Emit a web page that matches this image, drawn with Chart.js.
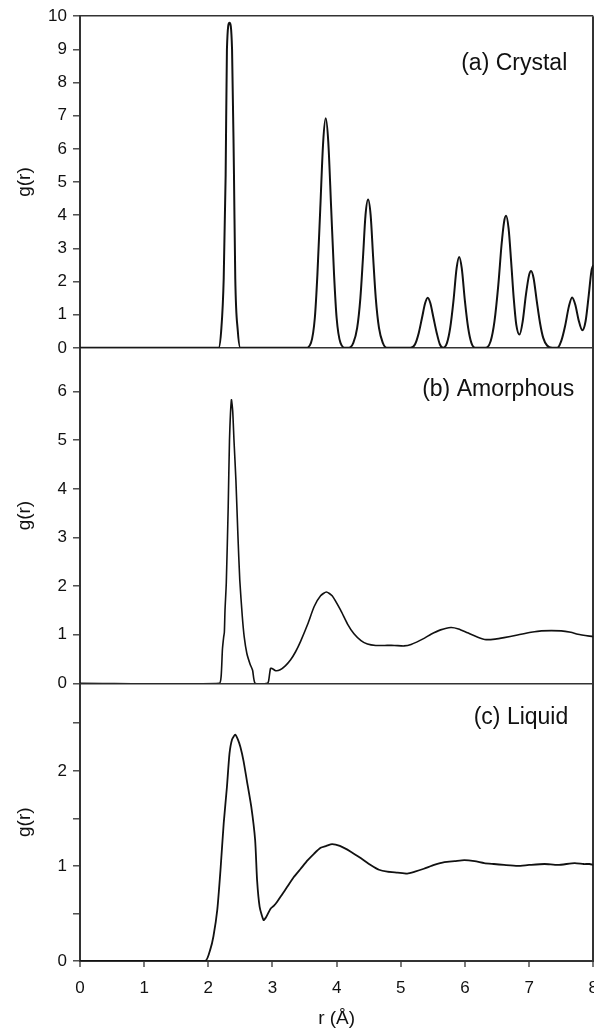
<!DOCTYPE html>
<html>
<head>
<meta charset="utf-8">
<title>g(r) - crystal / amorphous / liquid</title>
<script src="https://cdn.jsdelivr.net/npm/chart.js@4.4.1/dist/chart.umd.min.js"></script>
<style>
  html, body { margin: 0; padding: 0; background: #fff; overflow: hidden; }
  #wrap { width: 609px; height: 1030px; }
</style>
</head>
<body>
<div id="wrap"><canvas id="rdf" width="609" height="1030"></canvas></div>
<script>
// --- values (r in Angstrom, g(r)) ---
const crystalR = [0, 2.16, 2.20, 2.24, 2.27, 2.29, 2.33, 2.37, 2.40, 2.42, 2.46, 2.50,
    3.52, 3.60, 3.66, 3.70, 3.745, 3.79, 3.83, 3.87, 3.915, 3.96, 4.00, 4.06, 4.14,
    4.19, 4.26, 4.32, 4.37, 4.41, 4.45, 4.49, 4.53, 4.57, 4.61, 4.66, 4.72, 4.78,
    5.15, 5.22, 5.28, 5.33, 5.38, 5.42, 5.46, 5.51, 5.56, 5.61, 5.66,
    5.72, 5.77, 5.82, 5.87, 5.91, 5.95, 6.00, 6.05, 6.10, 6.16,
    6.32, 6.40, 6.46, 6.52, 6.57, 6.61, 6.64, 6.68, 6.72, 6.76, 6.80, 6.85,
    6.90, 6.95, 7.00, 7.03, 7.07, 7.12, 7.17, 7.22, 7.28, 7.36,
    7.44, 7.50, 7.56, 7.62, 7.67, 7.72, 7.77, 7.83, 7.88, 7.93, 7.97, 8.00];
const crystalG = [0, 0, 0.5, 2.1, 5.2, 9.0, 9.8, 9.0, 5.2, 2.1, 0.5, 0,
    0, 0.15, 0.9, 2.2, 4.2, 6.2, 6.92, 6.2, 4.2, 2.2, 0.9, 0.15, 0,
    0, 0.15, 0.6, 1.5, 2.7, 4.0, 4.47, 4.0, 2.7, 1.5, 0.6, 0.15, 0,
    0, 0.1, 0.45, 0.9, 1.35, 1.51, 1.35, 0.9, 0.45, 0.1, 0,
    0.15, 0.6, 1.4, 2.4, 2.74, 2.4, 1.4, 0.6, 0.15, 0,
    0, 0.2, 0.8, 1.9, 3.1, 3.8, 3.98, 3.6, 2.6, 1.5, 0.7, 0.40,
    0.8, 1.6, 2.2, 2.32, 2.1, 1.4, 0.75, 0.3, 0.07, 0,
    0, 0.2, 0.65, 1.25, 1.52, 1.3, 0.85, 0.53, 0.8, 1.6, 2.3, 2.5];

const amorR = [0, 2.17, 2.20, 2.22, 2.24, 2.25, 2.26, 2.28, 2.31, 2.33, 2.36, 2.38, 2.40, 2.43,
    2.46, 2.49, 2.53, 2.56, 2.60, 2.65, 2.69, 2.73, 2.92, 2.94, 2.97, 3.00, 3.05, 3.12,
    3.20, 3.28, 3.36, 3.44, 3.55, 3.65, 3.75, 3.84, 3.93, 4.06, 4.17, 4.27, 4.38, 4.48,
    4.61, 4.75, 4.90, 5.05, 5.16, 5.37, 5.47, 5.62, 5.78, 5.90, 6.04, 6.20, 6.33, 6.47,
    6.61, 6.80, 7.03, 7.19, 7.50, 7.65, 7.76, 8.00];
const amorG = [0, 0, 0.15, 0.7, 0.96, 1.05, 1.5, 2.06, 3.63, 5.0, 5.83, 5.6, 5.0, 4.18,
    3.09, 2.13, 1.37, 0.95, 0.62, 0.4, 0.27, 0, 0, 0.05, 0.31, 0.30, 0.26, 0.28,
    0.36, 0.48, 0.65, 0.87, 1.22, 1.58, 1.80, 1.88, 1.80, 1.51, 1.22, 1.02, 0.88, 0.81,
    0.78, 0.78, 0.78, 0.77, 0.80, 0.93, 1.01, 1.10, 1.15, 1.12, 1.04, 0.95, 0.90, 0.91,
    0.94, 0.99, 1.05, 1.08, 1.08, 1.05, 1.01, 0.96];

const liqR = [0, 1.95, 2.03, 2.08, 2.14, 2.19, 2.24, 2.29, 2.33, 2.37, 2.42, 2.46, 2.50,
    2.55, 2.60, 2.67, 2.73, 2.76, 2.80, 2.86, 2.90, 2.97, 3.02, 3.07, 3.15, 3.23, 3.33,
    3.44, 3.55, 3.65, 3.75, 3.84, 3.93, 4.05, 4.22, 4.38, 4.53, 4.66, 4.79, 4.95, 5.10,
    5.22, 5.36, 5.52, 5.68, 5.84, 5.99, 6.15, 6.30, 6.45, 6.61, 6.82, 7.00, 7.24, 7.45,
    7.71, 7.85, 7.94, 8.00];
const liqG = [0, 0, 0.12, 0.26, 0.54, 0.96, 1.45, 1.83, 2.18, 2.33, 2.38, 2.33, 2.25,
    2.10, 1.90, 1.62, 1.27, 0.85, 0.57, 0.43, 0.46, 0.55, 0.58, 0.62, 0.70, 0.78, 0.88,
    0.97, 1.06, 1.13, 1.19, 1.21, 1.23, 1.21, 1.15, 1.08, 1.01, 0.96, 0.94, 0.93, 0.92,
    0.94, 0.97, 1.01, 1.04, 1.05, 1.06, 1.05, 1.03, 1.02, 1.01, 1.00, 1.01, 1.02, 1.01,
    1.03, 1.02, 1.02, 1.01];

// tick values
const xTicks = [0, 1, 2, 3, 4, 5, 6, 7, 8];
const ticksA = [0, 1, 2, 3, 4, 5, 6, 7, 8, 9, 10];
const ticksB = [0, 1, 2, 3, 4, 5, 6];
const ticksC = [0, 0.5, 1, 1.5, 2, 2.5];

const panelLabels = ["(a) Crystal", "(b) Amorphous", "(c) Liquid"];

const INK = "#111";
const FRAME = "#333";
Chart.defaults.font.family = "'Liberation Sans', Arial, sans-serif";
Chart.defaults.color = INK;

function toPoints(rs, gs) {
    return rs.map((r, i) => ({ x: r, y: gs[i] }));
}

// one stacked y axis per panel, all 80px wide so the plots line up
function yScale(max, ticks, weight, edges) {
    return {
        type: "linear",
        position: "left",
        stack: "panels",
        stackWeight: weight,
        min: 0,
        max: max,
        afterBuildTicks: s => { s.ticks = ticks.map(v => ({ value: v })); },
        afterFit: s => { s.width = 80; },
        ticks: {
            font: { size: 17 },
            padding: 6,
            autoSkip: false,
            callback: v => Number.isInteger(v) ? v : ""
        },
        grid: {
            drawOnChartArea: true,
            color: c => (c.tick && edges.includes(c.tick.value)) ? FRAME : "rgba(0,0,0,0)",
            lineWidth: 1.6,
            tickLength: 7,
            tickColor: FRAME,
            tickWidth: 1.3
        },
        border: { display: true, color: FRAME, width: 2 },
        title: { display: true, text: "g(r)", font: { size: 19 }, padding: { top: 13, bottom: 0 } }
    };
}

// panel captions, placed from the top-right of each panel
const panelLabelPlugin = {
    id: "panelLabels",
    afterDatasetsDraw(chart, args, opts) {
        const ctx = chart.ctx;
        ctx.save();
        ctx.font = opts.font;
        ctx.fillStyle = INK;
        ctx.textAlign = "right";
        ctx.textBaseline = "middle";
        opts.items.forEach(it => {
            const s = chart.scales[it.axis];
            ctx.fillText(it.text, chart.chartArea.right - it.dx, s.top + it.dy);
        });
        ctx.restore();
    }
};

new Chart(document.getElementById("rdf"), {
    type: "line",
    data: {
        datasets: [
            {
                label: panelLabels[0],
                data: toPoints(crystalR, crystalG),
                yAxisID: "yA",
                borderColor: INK,
                borderWidth: 2,
                pointRadius: 0,
                cubicInterpolationMode: "monotone"
            },
            {
                label: panelLabels[1],
                data: toPoints(amorR, amorG),
                yAxisID: "yB",
                borderColor: INK,
                borderWidth: 1.6,
                pointRadius: 0,
                tension: 0.2
            },
            {
                label: panelLabels[2],
                data: toPoints(liqR, liqG),
                yAxisID: "yC",
                borderColor: INK,
                borderWidth: 1.8,
                pointRadius: 0,
                tension: 0.2
            }
        ]
    },
    options: {
        responsive: false,
        animation: false,
        layout: { padding: { top: 16, right: 0, left: 0, bottom: 0 } },
        plugins: {
            legend: { display: false },
            tooltip: { enabled: false },
            panelLabels: {
                font: "23px 'Liberation Sans', Arial, sans-serif",
                items: [
                    { axis: "yA", text: panelLabels[0], dx: 26, dy: 47 },
                    { axis: "yB", text: panelLabels[1], dx: 19, dy: 42 },
                    { axis: "yC", text: panelLabels[2], dx: 25, dy: 34 }
                ]
            }
        },
        scales: {
            x: {
                type: "linear",
                position: "bottom",
                min: 0,
                max: 8,
                afterBuildTicks: s => { s.ticks = xTicks.map(v => ({ value: v })); },
                afterFit: s => { s.height = 69; },
                ticks: { font: { size: 17 }, padding: 11, maxRotation: 0, autoSkip: false },
                grid: {
                    color: c => (c.tick && c.tick.value === 8) ? FRAME : "rgba(0,0,0,0)",
                    lineWidth: 2,
                    tickLength: 6,
                    tickColor: FRAME,
                    tickWidth: 1.3
                },
                border: { color: FRAME, width: 2 },
                title: { display: true, text: "r (Å)", font: { size: 19 }, padding: { top: 0, bottom: 0 } }
            },
            // later keys stack on top: liquid at the bottom, crystal on top
            yC: yScale(2.92, ticksC, 277.7, [0]),
            yB: yScale(6.9, ticksB, 335.6, [0]),
            yA: yScale(10, ticksA, 331.7, [0, 10])
        }
    },
    plugins: [panelLabelPlugin]
});
</script>
</body>
</html>
